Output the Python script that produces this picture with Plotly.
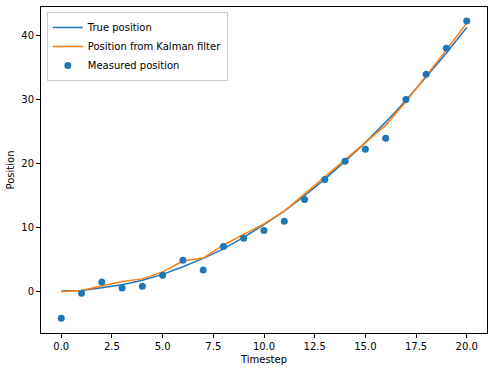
import plotly.graph_objects as go

timesteps = list(range(21))
true_position = [0.0, 0.1, 0.5, 1.0, 1.7, 2.6, 3.8, 5.1, 6.6, 8.4, 10.4, 12.5, 14.9, 17.5, 20.3, 23.2, 26.4, 29.8, 33.5, 37.2, 41.2]
kalman_position = [-0.1, 0.1, 0.8, 1.5, 1.9, 3.0, 4.7, 5.15, 7.2, 8.85, 10.5, 12.5, 15.2, 17.9, 20.5, 23.2, 25.9, 29.6, 33.6, 37.7, 41.9]
measured_position = [-4.25, -0.35, 1.4, 0.47, 0.75, 2.45, 4.8, 3.28, 6.98, 8.25, 9.48, 10.9, 14.3, 17.45, 20.3, 22.15, 23.9, 29.95, 33.9, 37.95, 42.2]

x_ticks = [0, 2.5, 5, 7.5, 10, 12.5, 15, 17.5, 20]
x_tick_text = ["0.0", "2.5", "5.0", "7.5", "10.0", "12.5", "15.0", "17.5", "20.0"]
y_ticks = [0, 10, 20, 30, 40]

fig = go.Figure()
fig.add_trace(go.Scatter(x=timesteps, y=true_position, mode="lines", name="True position",
                         line=dict(color="#1f77b4", width=1.5)))
fig.add_trace(go.Scatter(x=timesteps, y=kalman_position, mode="lines", name="Position from Kalman filter",
                         line=dict(color="#ff7f0e", width=1.5)))
fig.add_trace(go.Scatter(x=timesteps, y=measured_position, mode="markers", name="Measured position",
                         marker=dict(color="#1f77b4", size=7)))

axis_common = dict(showline=True, linecolor="black", linewidth=1, mirror=True, ticks="outside",
                   ticklen=4, tickcolor="black", showgrid=False, zeroline=False,
                   tickfont=dict(family="DejaVu Sans", size=10, color="black"))

fig.update_layout(
    width=494, height=371,
    margin=dict(l=41, r=7, t=7, b=38),
    paper_bgcolor="white", plot_bgcolor="white",
    font=dict(family="DejaVu Sans", size=10, color="black"),
    xaxis=dict(range=[-1, 21], tickvals=x_ticks, ticktext=x_tick_text,
               title=dict(text="Timestep", font=dict(size=10), standoff=4), **axis_common),
    yaxis=dict(range=[-6.56, 44.4], tickvals=y_ticks,
               title=dict(text="Position", font=dict(size=10), standoff=4), **axis_common),
    legend=dict(x=0.013, y=0.985, xanchor="left", yanchor="top", bgcolor="rgba(255,255,255,0.8)",
                bordercolor="#cccccc", borderwidth=1, font=dict(size=10), tracegroupgap=0,
                itemwidth=30),
    showlegend=True,
)

fig.write_html("out.html")
